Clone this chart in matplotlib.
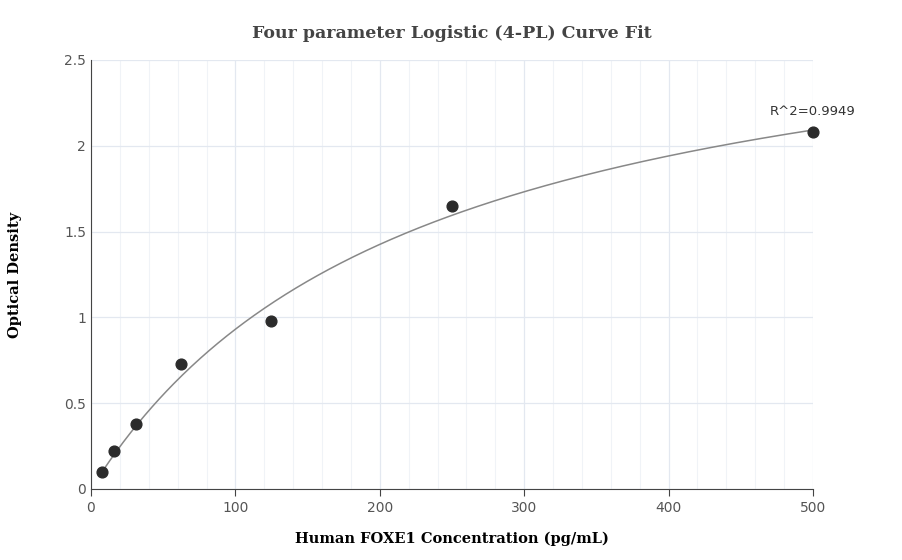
import numpy as np
import matplotlib
matplotlib.use("Agg")
import matplotlib.pyplot as plt
from matplotlib.ticker import MultipleLocator

conc = [7.8, 15.6, 31.25, 62.5, 125, 250, 500]
od = [0.10, 0.22, 0.38, 0.73, 0.98, 1.65, 2.08]
# 4PL parameters (estimated fit)
A, B, C, D = 0.0, 1.0, 226.5, 3.04

fig = plt.figure(figsize=(9.03, 5.6), dpi=100)
ax = fig.add_axes([91/903, 1-489/560, (813-91)/903, (489-60)/560])
xs = np.linspace(7.8, 500, 400)
ax.plot(xs, D + (A - D) / (1 + (xs / C) ** B), color="#888888", lw=1.1, zorder=2)
ax.scatter(conc, od, s=60, color="#2b2b2b", zorder=3, clip_on=False)
ax.set_xlim(0, 500)
ax.set_ylim(0, 2.5)
ax.xaxis.set_major_locator(MultipleLocator(100))
ax.xaxis.set_minor_locator(MultipleLocator(20))
ax.yaxis.set_major_locator(MultipleLocator(0.5))
ax.grid(which="major", color="#e3e8f0", lw=0.9)
ax.grid(which="minor", axis="x", color="#f0f3f7", lw=0.8)
ax.set_axisbelow(True)
for s in ["top", "right"]:
    ax.spines[s].set_visible(False)
for s in ["left", "bottom"]:
    ax.spines[s].set_color("#444444")
ax.tick_params(which="both", length=0, colors="#555555", labelsize=10)
ax.tick_params(axis="x", which="major", length=5, color="#444444")
ax.set_yticks([0, 0.5, 1, 1.5, 2, 2.5], ["0", "0.5", "1", "1.5", "2", "2.5"])
ax.annotate("R^2=0.9949", (500, 2.08), xytext=(0, 10), textcoords="offset points",
            ha="center", va="bottom", fontsize=9.5, color="#333333", annotation_clip=False)
ax.set_xlabel("Human FOXE1 Concentration (pg/mL)", fontfamily="DejaVu Serif",
              fontweight="bold", fontsize=10.5, labelpad=12)
ax.set_ylabel("Optical Density", fontfamily="DejaVu Serif", fontweight="bold",
              fontsize=10.5, labelpad=30)
fig.text(452/903, 1-33/560, "Four parameter Logistic (4-PL) Curve Fit",
         ha="center", va="center", fontfamily="DejaVu Serif", fontweight="bold",
         fontsize=12.5, color="#444444")
fig.savefig("out.png", dpi=100)
